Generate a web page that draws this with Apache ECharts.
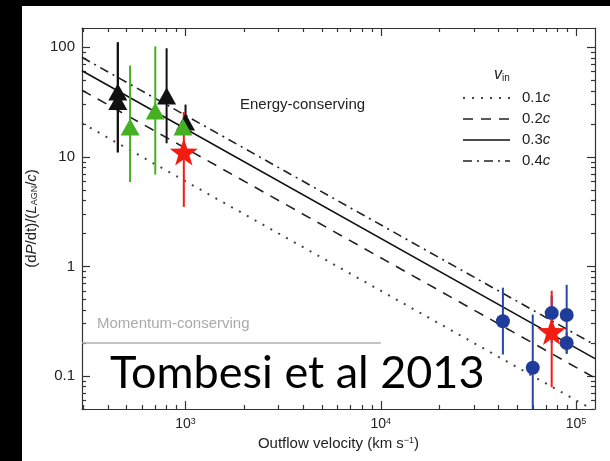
<!DOCTYPE html>
<html>
<head>
<meta charset="utf-8">
<script src="https://cdn.jsdelivr.net/npm/echarts@6/dist/echarts.min.js"></script>
<style>
  html, body { margin: 0; padding: 0; background: #000; width: 610px; height: 461px; overflow: hidden; }
  #paper { position: absolute; left: 22px; top: 6px; width: 588px; height: 455px; background: #fff; }
  #chart { position: absolute; left: 0; top: 0; width: 610px; height: 461px; }
</style>
</head>
<body>
<div id="paper"></div>
<div id="chart"></div>
<script>
// Axis ranges and ticks
const xRange = [295, 125000];
const yRange = [0.05, 150];
const xMajorTicks = [1000, 10000, 100000];
const xTickLabels = ['10{s|3}', '10{s|4}', '10{s|5}'];
const xMinorTicks = [300, 400, 500, 600, 700, 800, 900,
  2000, 3000, 4000, 5000, 6000, 7000, 8000, 9000,
  20000, 30000, 40000, 50000, 60000, 70000, 80000, 90000];
const yMajorTicks = [0.1, 1, 10, 100];
const yTickLabels = ['0.1', '1', '10', '100'];
const yMinorTicks = [0.05, 0.06, 0.07, 0.08, 0.09,
  0.2, 0.3, 0.4, 0.5, 0.6, 0.7, 0.8, 0.9,
  2, 3, 4, 5, 6, 7, 8, 9,
  20, 30, 40, 50, 60, 70, 80, 90];

// Energy-conserving relations for each inner wind velocity (end points)
const modelNames = ['0.1c', '0.2c', '0.3c', '0.4c'];
const modelVelocity = [295, 125000];
const model01 = [20.3, 0.048];
const model02 = [40.6, 0.096];
const model03 = [61, 0.144];
const model04 = [81, 0.192];

// Momentum-conserving reference level
const momentumVelocity = [295, 10000];
const momentumLevel = [0.2, 0.2];

// Molecular outflows (black triangles)
const blackVelocity = [450, 450, 800, 1000];
const blackValue = [39, 32, 36, 20.8];
const blackLow = [11, 11, 13.3, 16];
const blackHigh = [111, 111, 98, 30];

// Molecular outflows (green triangles)
const greenVelocity = [520, 700, 970];
const greenValue = [18.7, 26.2, 18.7];
const greenLow = [5.9, 6.9, 16];
const greenHigh = [68, 102, 22];

// Ultra-fast outflows (blue circles)
const blueVelocity = [42200, 60000, 75000, 89500, 89500];
const blueValue = [0.316, 0.119, 0.375, 0.36, 0.2];
const blueLow = [0.157, 0.03, 0.2, 0.16, 0.16];
const blueHigh = [0.64, 0.364, 0.54, 0.68, 0.25];

// IRAS F11119+3257 (red stars)
const redVelocity = [980, 75000];
const redValue = [11.1, 0.255];
const redLow = [3.5, 0.079];
const redHigh = [25.7, 0.6];

const FONT = '"Liberation Sans", Arial, Helvetica, sans-serif';
const INK = '#222';
const STAR = 'path://M0,-10 L2.35,-3.24 L9.51,-3.09 L3.8,1.24 L5.88,8.09 L0,4 L-5.88,8.09 L-3.8,1.24 L-9.51,-3.09 L-2.35,-3.24 Z';

// Line styles shared by the model curves and their key
const modelStyles = [
  { dash: [2, 7], width: 2, color: '#444' },
  { dash: [10, 8], width: 1.6, color: '#222' },
  { dash: null, width: 1.6, color: '#111' },
  { dash: [9, 5, 2, 5], width: 1.6, color: '#222' }
];

const zip2 = (a, b) => a.map((v, i) => [v, b[i]]);
const zip3 = (a, b, c) => a.map((v, i) => [v, b[i], c[i]]);
const decade = v => Math.round(Math.log10(v));

function axisBase(range, position, ticks, len, showLine) {
  return {
    type: 'log', logBase: 10, min: range[0], max: range[1], position: position,
    splitLine: { show: false },
    axisLine: { show: showLine, lineStyle: { color: '#333', width: 1.2 } },
    axisTick: { show: true, inside: true, length: len, customValues: ticks,
      lineStyle: { color: '#333', width: 1.2 } },
    axisLabel: { show: false }
  };
}

const xMain = axisBase(xRange, 'bottom', xMajorTicks, 8, true);
xMain.axisLabel = {
  show: true, customValues: xMajorTicks, margin: 8,
  color: INK, fontFamily: FONT, fontSize: 14,
  formatter: v => xTickLabels[xMajorTicks.findIndex(t => decade(t) === decade(v))],
  rich: { s: { fontSize: 9, fontFamily: FONT, color: INK, verticalAlign: 'top', lineHeight: 10 } }
};
xMain.name = 'Outflow velocity (km s{sup|\u22121})';
xMain.nameLocation = 'middle';
xMain.nameGap = 27;
xMain.nameTextStyle = { color: INK, fontFamily: FONT, fontSize: 15,
  rich: { sup: { fontSize: 9, fontFamily: FONT, color: INK, verticalAlign: 'top', lineHeight: 10 } } };

const yMain = axisBase(yRange, 'left', yMajorTicks, 8, true);
yMain.axisLabel = {
  show: true, customValues: yMajorTicks, margin: 7,
  color: INK, fontFamily: FONT, fontSize: 15,
  formatter: v => yTickLabels[yMajorTicks.findIndex(t => decade(t) === decade(v))]
};
yMain.name = '(d{i|P}/dt)/({i|L}{sub|AGN}/{i|c})';
yMain.nameLocation = 'middle';
yMain.nameRotate = 90;
yMain.nameGap = 41;
yMain.nameTextStyle = { color: INK, fontFamily: FONT, fontSize: 15,
  rich: {
    i: { fontStyle: 'italic', fontFamily: FONT, fontSize: 15, color: INK },
    sub: { fontSize: 9, fontFamily: FONT, color: INK, verticalAlign: 'bottom', lineHeight: 10 }
  } };

function modelLine(name, values, st) {
  return {
    name: name, type: 'line', xAxisIndex: 0, yAxisIndex: 0,
    data: zip2(modelVelocity, values), symbol: 'none', clip: true, silent: true,
    lineStyle: { color: st.color, width: st.width, type: st.dash || 'solid', cap: 'butt' },
    z: 2
  };
}

function errorBars(velocity, low, high, color) {
  return {
    type: 'custom', xAxisIndex: 0, yAxisIndex: 0, clip: true, silent: true,
    data: zip3(velocity, low, high),
    encode: { x: 0, y: [1, 2] },
    renderItem: (params, api) => {
      const a = api.coord([api.value(0), api.value(1)]);
      const b = api.coord([api.value(0), api.value(2)]);
      return { type: 'line', shape: { x1: a[0], y1: a[1], x2: b[0], y2: b[1] },
        style: { stroke: color, lineWidth: 2 } };
    },
    z: 3
  };
}

function markers(velocity, values, symbol, size, color) {
  return {
    type: 'scatter', xAxisIndex: 0, yAxisIndex: 0, silent: true,
    data: zip2(velocity, values), symbol: symbol, symbolSize: size,
    itemStyle: { color: color, opacity: 1 }, z: 3
  };
}

// Key for the inner wind velocities
const keyItems = [];
modelNames.forEach((name, i) => {
  const st = modelStyles[i];
  const y = 98 + i * 21;
  keyItems.push({ type: 'line', shape: { x1: 463, y1: y, x2: 510, y2: y },
    style: { stroke: st.color, lineWidth: st.width, lineDash: st.dash, lineCap: 'butt' } });
  keyItems.push({ type: 'text', x: 522, y: y, style: {
    text: name.replace('c', '{i|c}'), fontFamily: FONT, fontSize: 15, fill: INK, verticalAlign: 'middle',
    rich: { i: { fontStyle: 'italic', fontFamily: FONT, fontSize: 15, fill: INK } } } });
});

const chart = echarts.init(document.getElementById('chart'), null, { renderer: 'canvas' });
chart.setOption({
  backgroundColor: 'transparent',
  animation: false,
  grid: { left: 82, right: 15, top: 28, bottom: 52 },
  xAxis: [
    xMain,
    axisBase(xRange, 'bottom', xMinorTicks, 4, false),
    axisBase(xRange, 'top', xMajorTicks, 8, true),
    axisBase(xRange, 'top', xMinorTicks, 4, false)
  ],
  yAxis: [
    yMain,
    axisBase(yRange, 'left', yMinorTicks, 4, false),
    axisBase(yRange, 'right', yMajorTicks, 8, true),
    axisBase(yRange, 'right', yMinorTicks, 4, false)
  ],
  graphic: keyItems.concat([
    { type: 'text', x: 494, y: 75, style: { text: '{v|v}{s|in}', verticalAlign: 'middle',
      rich: {
        v: { fontStyle: 'italic', fontFamily: FONT, fontSize: 16, fill: INK },
        s: { fontFamily: FONT, fontSize: 10, fill: INK, verticalAlign: 'bottom', lineHeight: 12 }
      } } },
    { type: 'text', x: 240, y: 105, style: { text: 'Energy-conserving', font: '15px ' + FONT,
      fill: INK, verticalAlign: 'middle' } },
    { type: 'text', x: 97, y: 324, style: { text: 'Momentum-conserving', font: '15px ' + FONT,
      fill: '#aaa', verticalAlign: 'middle' } },
    { type: 'text', x: 110, y: 373, z: 10, style: { text: 'Tombesi et al 2013', font: '45px Lato, "Open Sans", sans-serif',
      fill: '#000', verticalAlign: 'middle' } }
  ]),
  series: [
    modelLine(modelNames[0], model01, modelStyles[0]),
    modelLine(modelNames[1], model02, modelStyles[1]),
    modelLine(modelNames[2], model03, modelStyles[2]),
    modelLine(modelNames[3], model04, modelStyles[3]),
    {
      type: 'line', xAxisIndex: 0, yAxisIndex: 0, symbol: 'none', silent: true,
      data: zip2(momentumVelocity, momentumLevel),
      lineStyle: { color: '#b0b0b0', width: 1.5 }, z: 2
    },
    errorBars(blackVelocity, blackLow, blackHigh, '#111'),
    markers(blackVelocity, blackValue, 'triangle', [19, 17], '#111'),
    errorBars(greenVelocity, greenLow, greenHigh, '#44b022'),
    markers(greenVelocity, greenValue, 'triangle', [19, 17], '#44b022'),
    errorBars(blueVelocity, blueLow, blueHigh, '#2a45a8'),
    markers(blueVelocity, blueValue, 'circle', 14, '#1f3c9a'),
    errorBars(redVelocity, redLow, redHigh, '#f21d10'),
    markers(redVelocity, redValue, STAR, [28, 27], '#f21d10')
  ]
});
</script>
</body>
</html>
